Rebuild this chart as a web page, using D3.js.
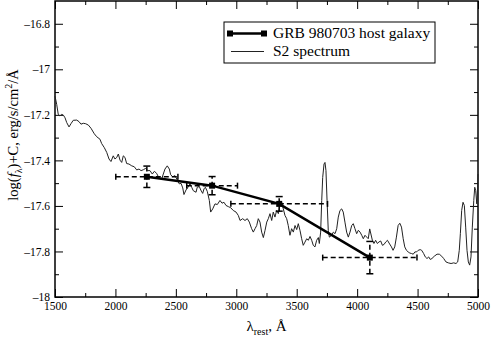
<!DOCTYPE html>
<html>
<head>
<meta charset="utf-8">
<script src="https://cdn.jsdelivr.net/npm/d3@7"></script>
<style>
  body { margin: 0; background: #fff; }
  text { font-family: "Liberation Serif", "Times New Roman", serif; fill: #000; }
</style>
</head>
<body>
<div id="chart"></div>
<script>
// S2 spectrum
var specLambda = [1500,1514,1527,1541,1555,1569,1583,1597,1616,1632,1651,1680,1699,1715,1734,1754,1776,1798,1825,1845,
  1872,1886,1908,1928,1947,1963,1982,1996,2011,2024,2038,2052,2065,2079,2093,2112,2135,2156,2176,2195,
  2212,2231,2250,2267,2286,2305,2322,2341,2360,2383,2396,2410,2429,2446,2457,2474,2493,2512,2528,2543,
  2557,2567,2584,2600,2617,2631,2644,2667,2677,2694,2706,2722,2733,2744,2760,2777,2788,2805,2824,2843,
  2865,2882,2898,2915,2934,2954,2975,2998,3017,3031,3053,3072,3091,3108,3127,3141,3155,3169,3182,3196,
  3210,3224,3238,3252,3265,3279,3293,3306,3320,3334,3348,3362,3376,3389,3403,3417,3430,3444,3458,3472,
  3486,3500,3513,3527,3541,3554,3568,3583,3596,3610,3624,3637,3651,3665,3679,3687,3698,3707,3715,3726,
  3734,3742,3751,3761,3770,3789,3803,3817,3831,3844,3858,3872,3885,3899,3913,3927,3941,3955,3968,3982,
  3996,4010,4024,4038,4051,4065,4079,4092,4104,4126,4139,4153,4167,4181,4195,4209,4223,4237,4251,4264,
  4284,4297,4311,4325,4339,4353,4367,4381,4394,4408,4422,4436,4450,4464,4478,4492,4505,4522,4534,4550,
  4564,4578,4592,4605,4619,4638,4661,4680,4700,4716,4735,4754,4777,4799,4818,4832,4845,4854,4865,4876,
  4887,4898,4909,4920,4931,4942,4953,4965,4973,4981,4990,4998,5000];
var specFlux = [-17.118,-17.154,-17.198,-17.205,-17.198,-17.201,-17.213,-17.234,-17.253,-17.239,-17.224,-17.223,-17.230,-17.241,-17.237,-17.239,-17.245,-17.259,-17.283,-17.296,
  -17.307,-17.326,-17.344,-17.365,-17.394,-17.405,-17.380,-17.394,-17.387,-17.372,-17.399,-17.409,-17.380,-17.387,-17.414,-17.416,-17.424,-17.428,-17.442,-17.438,
  -17.445,-17.441,-17.435,-17.445,-17.445,-17.460,-17.448,-17.457,-17.477,-17.482,-17.460,-17.438,-17.424,-17.438,-17.463,-17.472,-17.467,-17.486,-17.503,-17.501,
  -17.521,-17.550,-17.530,-17.518,-17.503,-17.518,-17.533,-17.540,-17.518,-17.515,-17.530,-17.545,-17.525,-17.518,-17.536,-17.576,-17.627,-17.613,-17.591,-17.594,
  -17.576,-17.588,-17.584,-17.598,-17.603,-17.608,-17.620,-17.627,-17.642,-17.664,-17.656,-17.664,-17.656,-17.671,-17.700,-17.715,-17.700,-17.686,-17.656,-17.671,
  -17.715,-17.739,-17.707,-17.671,-17.656,-17.634,-17.664,-17.627,-17.649,-17.620,-17.634,-17.591,-17.584,-17.613,-17.642,-17.656,-17.686,-17.729,-17.700,-17.715,
  -17.686,-17.704,-17.678,-17.707,-17.744,-17.773,-17.759,-17.744,-17.751,-17.734,-17.751,-17.773,-17.780,-17.751,-17.739,-17.765,-17.715,-17.576,-17.475,-17.416,
  -17.409,-17.445,-17.576,-17.707,-17.737,-17.729,-17.715,-17.722,-17.700,-17.649,-17.620,-17.613,-17.627,-17.671,-17.715,-17.737,-17.715,-17.686,-17.678,-17.700,
  -17.722,-17.707,-17.715,-17.729,-17.744,-17.729,-17.737,-17.744,-17.701,-17.751,-17.765,-17.751,-17.765,-17.758,-17.754,-17.773,-17.769,-17.758,-17.751,-17.763,
  -17.780,-17.795,-17.780,-17.737,-17.686,-17.676,-17.693,-17.744,-17.780,-17.795,-17.802,-17.807,-17.809,-17.812,-17.802,-17.802,-17.795,-17.792,-17.795,-17.809,
  -17.824,-17.831,-17.824,-17.835,-17.831,-17.821,-17.812,-17.812,-17.821,-17.831,-17.846,-17.850,-17.853,-17.850,-17.853,-17.846,-17.795,-17.722,-17.620,-17.584,
  -17.598,-17.693,-17.795,-17.846,-17.860,-17.824,-17.693,-17.576,-17.518,-17.533,-17.591,-17.503,-17.460];

// GRB 980703 host galaxy photometry
var hostLambda = [2260, 2800, 3355, 4105];
var hostFlux = [-17.472, -17.511, -17.591, -17.827];
var hostLambdaErr = [257, 210, 400, 390];
var hostFluxErr = [0.047, 0.040, 0.032, 0.071];

var xTicks = [1500, 2000, 2500, 3000, 3500, 4000, 4500, 5000];
var yTicks = [-18, -17.8, -17.6, -17.4, -17.2, -17, -16.8];
var yTickLabels = ["\u201318", "\u201317.8", "\u201317.6", "\u201317.4", "\u201317.2", "\u201317", "\u201316.8"];
var legendLabels = ["GRB 980703 host galaxy", "S2 spectrum"];

// set the dimensions and margins of the graph
var margin = {top: 1, right: 13, bottom: 46, left: 55},
    width = 491 - margin.left - margin.right,
    height = 343 - margin.top - margin.bottom;

var svg = d3.select("#chart")
  .append("svg")
    .attr("width", width + margin.left + margin.right)
    .attr("height", height + margin.top + margin.bottom)
  .append("g")
    .attr("transform", "translate(" + margin.left + "," + margin.top + ")");

var x = d3.scaleLinear().domain([1500, 5000]).range([0, width]);
var y = d3.scaleLinear().domain([-18, -16.7]).range([height, 0]);

var xMinor = d3.range(1750, 5000, 500);
var yMinor = d3.range(-17.9, -16.7, 0.2);

function styleAxis(g, fs) {
  g.select(".domain").remove();
  g.selectAll("line").attr("stroke", "#000").attr("stroke-width", 1);
  g.selectAll("text").attr("font-family", "Liberation Serif, serif").attr("font-size", fs).attr("fill", "#000");
}

// bottom axis
svg.append("g")
  .attr("transform", "translate(0," + height + ")")
  .call(d3.axisBottom(x).tickValues(xTicks).tickSize(-8).tickPadding(5).tickFormat(d3.format("d")))
  .call(styleAxis, 11.5);
svg.append("g")
  .attr("transform", "translate(0," + height + ")")
  .call(d3.axisBottom(x).tickValues(xMinor).tickSize(-4).tickFormat(""))
  .call(styleAxis, 11.5);
// top axis (mirror)
svg.append("g")
  .call(d3.axisTop(x).tickValues(xTicks).tickSize(-8).tickFormat(""))
  .call(styleAxis, 11.5);
svg.append("g")
  .call(d3.axisTop(x).tickValues(xMinor).tickSize(-4).tickFormat(""))
  .call(styleAxis, 11.5);

// left axis
svg.append("g")
  .call(d3.axisLeft(y).tickValues(yTicks).tickSize(-8).tickPadding(5)
    .tickFormat(function(d, i) { return yTickLabels[i]; }))
  .call(styleAxis, 11.5);
svg.append("g")
  .call(d3.axisLeft(y).tickValues(yMinor).tickSize(-4).tickFormat(""))
  .call(styleAxis, 11.5);
// right axis (mirror)
svg.append("g")
  .attr("transform", "translate(" + width + ",0)")
  .call(d3.axisRight(y).tickValues(yTicks).tickSize(-8).tickFormat(""))
  .call(styleAxis, 11.5);
svg.append("g")
  .attr("transform", "translate(" + width + ",0)")
  .call(d3.axisRight(y).tickValues(yMinor).tickSize(-4).tickFormat(""))
  .call(styleAxis, 11.5);

// frame
svg.append("rect")
  .attr("x", 0).attr("y", 0)
  .attr("width", width).attr("height", height)
  .attr("fill", "none").attr("stroke", "#000").attr("stroke-width", 1.5);

// spectrum
var spec = specLambda.map(function(l, i) { return {l: l, f: specFlux[i]}; });
svg.append("path")
  .datum(spec)
  .attr("fill", "none")
  .attr("stroke", "#222")
  .attr("stroke-width", 1)
  .attr("d", d3.line().x(function(d) { return x(d.l); }).y(function(d) { return y(d.f); }));

// host galaxy points
var host = hostLambda.map(function(l, i) {
  return {l: l, f: hostFlux[i], dl: hostLambdaErr[i], df: hostFluxErr[i]};
});

var errG = svg.append("g")
  .attr("stroke", "#000").attr("stroke-width", 1.5).attr("fill", "none");

// horizontal error bars
errG.selectAll(".xerr").data(host).enter().append("line")
  .attr("x1", function(d) { return x(d.l - d.dl); })
  .attr("x2", function(d) { return x(d.l + d.dl); })
  .attr("y1", function(d) { return y(d.f); })
  .attr("y2", function(d) { return y(d.f); })
  .attr("stroke-dasharray", "5,3");
errG.selectAll(".xcapL").data(host).enter().append("line")
  .attr("x1", function(d) { return x(d.l - d.dl); })
  .attr("x2", function(d) { return x(d.l - d.dl); })
  .attr("y1", function(d) { return y(d.f) - 3; })
  .attr("y2", function(d) { return y(d.f) + 3; });
errG.selectAll(".xcapR").data(host).enter().append("line")
  .attr("x1", function(d) { return x(d.l + d.dl); })
  .attr("x2", function(d) { return x(d.l + d.dl); })
  .attr("y1", function(d) { return y(d.f) - 3; })
  .attr("y2", function(d) { return y(d.f) + 3; });

// vertical error bars
errG.selectAll(".yerr").data(host).enter().append("line")
  .attr("x1", function(d) { return x(d.l); })
  .attr("x2", function(d) { return x(d.l); })
  .attr("y1", function(d) { return y(d.f - d.df); })
  .attr("y2", function(d) { return y(d.f + d.df); })
  .attr("stroke-dasharray", "5,3");
errG.selectAll(".ycapB").data(host).enter().append("line")
  .attr("x1", function(d) { return x(d.l) - 3.5; })
  .attr("x2", function(d) { return x(d.l) + 3.5; })
  .attr("y1", function(d) { return y(d.f - d.df); })
  .attr("y2", function(d) { return y(d.f - d.df); });
errG.selectAll(".ycapT").data(host).enter().append("line")
  .attr("x1", function(d) { return x(d.l) - 3.5; })
  .attr("x2", function(d) { return x(d.l) + 3.5; })
  .attr("y1", function(d) { return y(d.f + d.df); })
  .attr("y2", function(d) { return y(d.f + d.df); });

// connecting line
svg.append("path")
  .datum(host)
  .attr("fill", "none")
  .attr("stroke", "#000")
  .attr("stroke-width", 2.5)
  .attr("d", d3.line().x(function(d) { return x(d.l); }).y(function(d) { return y(d.f); }));

// square markers
svg.selectAll(".marker").data(host).enter().append("rect")
  .attr("x", function(d) { return x(d.l) - 3; })
  .attr("y", function(d) { return y(d.f) - 3; })
  .attr("width", 6).attr("height", 6)
  .attr("fill", "#000");

// legend
var leg = svg.append("g").attr("transform", "translate(" + (224 - margin.left) + "," + (22 - margin.top) + ")");
leg.append("rect")
  .attr("width", 211).attr("height", 41)
  .attr("fill", "#fff").attr("stroke", "#000").attr("stroke-width", 1);
leg.append("line")
  .attr("x1", 6).attr("x2", 40).attr("y1", 11.5).attr("y2", 11.5)
  .attr("stroke", "#000").attr("stroke-width", 2.5);
[6, 40].forEach(function(px) {
  leg.append("rect")
    .attr("x", px - 3).attr("y", 8.5).attr("width", 6).attr("height", 6).attr("fill", "#000");
});
leg.append("line")
  .attr("x1", 7).attr("x2", 40).attr("y1", 29.5).attr("y2", 29.5)
  .attr("stroke", "#222").attr("stroke-width", 1);
leg.selectAll(".lt").data(legendLabels).enter().append("text")
  .attr("x", 49)
  .attr("y", function(d, i) { return 16 + i * 18; })
  .attr("font-size", 15.5)
  .text(function(d) { return d; });

// x axis label
var xl = svg.append("text")
  .attr("x", width / 2)
  .attr("y", 331 - margin.top)
  .attr("text-anchor", "middle")
  .attr("font-size", 15);
xl.append("tspan").text("\u03bb");
xl.append("tspan").attr("dy", 4).attr("font-size", 10).text("rest");
xl.append("tspan").attr("dy", -4).text(", \u00c5");

// y axis label
var yl = svg.append("text")
  .attr("transform", "translate(" + (18 - margin.left) + "," + (135 - margin.top) + ") rotate(-90)")
  .attr("text-anchor", "middle")
  .attr("font-size", 14.5);
yl.append("tspan").text("log(");
yl.append("tspan").attr("font-style", "italic").text("f");
yl.append("tspan").attr("dy", 4).attr("font-size", 10).text("\u03bb");
yl.append("tspan").attr("dy", -4).text(")+C, erg/s/cm");
yl.append("tspan").attr("dy", -6).attr("font-size", 10).text("2");
yl.append("tspan").attr("dy", 6).text("/\u00c5");
</script>
</body>
</html>
